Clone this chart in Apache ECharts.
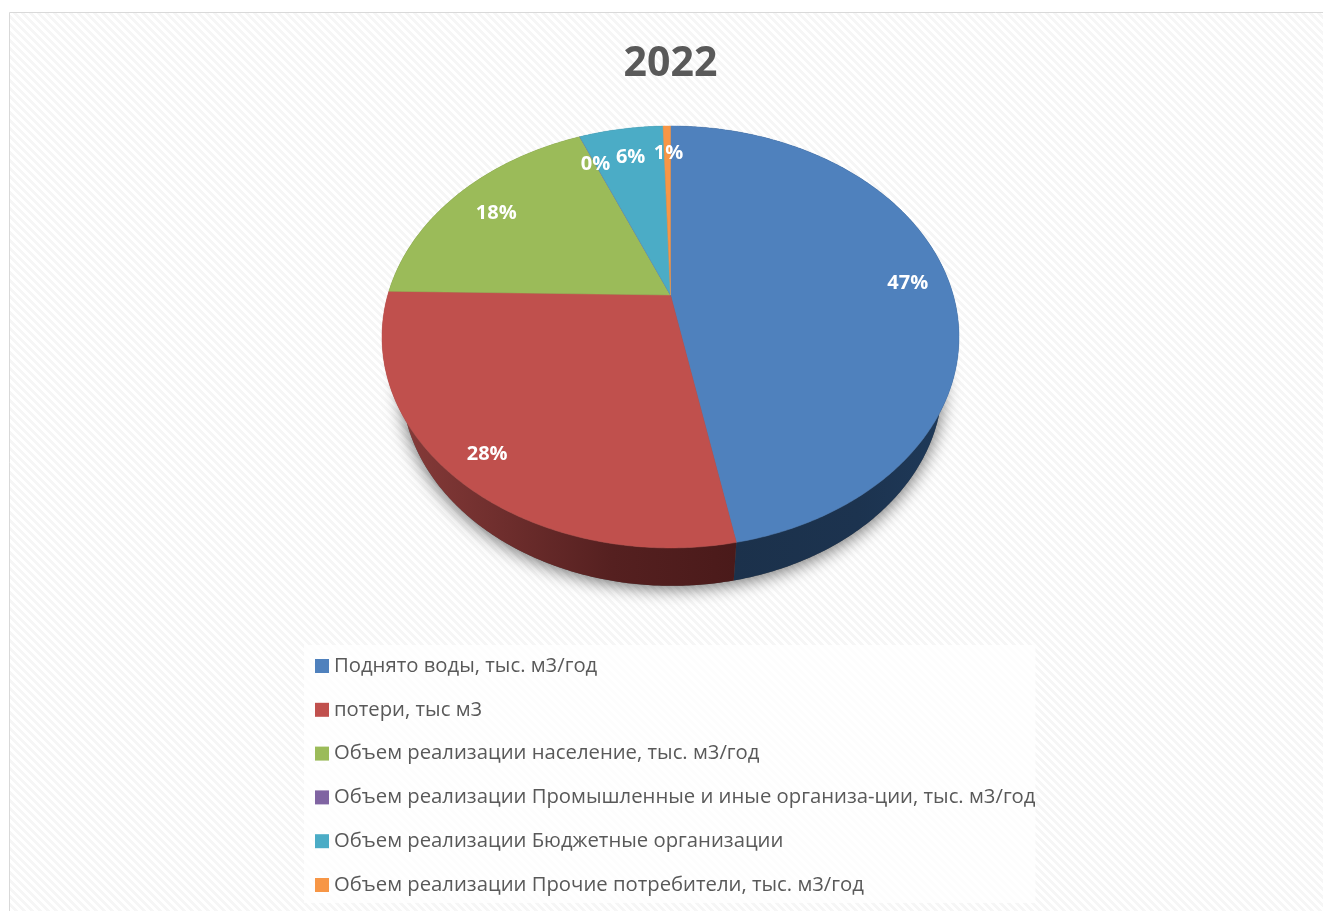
<!DOCTYPE html>
<html lang="ru">
<head>
<meta charset="utf-8">
<title>2022</title>
<style>
html,body{margin:0;padding:0;background:#fff;}
#chart{width:1323px;height:911px;}
</style>
<script src="https://cdn.jsdelivr.net/npm/echarts@6/dist/echarts.min.js"></script>
</head>
<body>
<div id="chart"></div>
<script>
// Chart content
const chartTitle = '2022';
const categories = [
  'Поднято воды, тыс. м3/год',
  'потери, тыс м3',
  'Объем реализации население, тыс. м3/год',
  'Объем реализации Промышленные и иные организа-ции, тыс. м3/год',
  'Объем реализации Бюджетные организации',
  'Объем реализации Прочие потребители, тыс. м3/год'
];
// Share of the total, percent
const shares = [47.0, 28.3, 18.49, 0.01, 5.7, 0.5];

// Slice colours and the shaded colours of their outer walls (left, middle, right)
const sliceColors = ['#4f81bd', '#c0504d', '#9bbb59', '#8064a2', '#4bacc6', '#f79646'];
const wallColors = [
  ['#1b3049', '#1c334f', '#1f3a5a'], ['#8a3d3b', '#552020', '#4a1a1a'], ['#5c7035', '#5c7035', '#5c7035'],
  ['#4c3c61', '#4c3c61', '#4c3c61'], ['#2d6776', '#2d6776', '#2d6776'], ['#94591f', '#94591f', '#94591f']
];

// Fine placement of the percentage labels, pixels
const labelOffsets = [[-1, 4], [-3, 6], [-3, 2], [0, 0], [1, -1], [1, -2]];

// Projection of the tilted disc: perspective map of the unit circle onto the page
const TILT = 0.199;
const topFace = { cx: 670.5, cy: 295, rx: 282.7, ry: 202.6 };
const bottomFace = { cx: 672, cy: 342.4, rx: 265, ry: 195 };

function project(face, angleDeg, radius) {
  const a = angleDeg * Math.PI / 180;
  const u = Math.sin(a) * radius;
  const v = -Math.cos(a) * radius;
  const d = 1 - TILT * v;
  return [face.cx + face.rx * u / d, face.cy + face.ry * v / d];
}

function rim(face, from, to) {
  const steps = Math.max(2, Math.ceil((to - from) / 0.5));
  const pts = [];
  for (let i = 0; i <= steps; i++) pts.push(project(face, from + (to - from) * i / steps, 1));
  return pts;
}

const total = shares.reduce((s, v) => s + v, 0);

function startAngle(index) {
  let sum = 0;
  for (let i = 0; i < index; i++) sum += shares[i];
  return sum / total * 360;
}

function labelRadius(share) {
  return share >= 25 ? 0.86 : 0.8;
}

function renderSlice(index, params, api) {
  const value = api.value(0);
  const from = startAngle(index);
  const to = from + value / total * 360;
  const children = [];

  if (index === 0) {
    // Soft shadow under the whole disc
    children.push({
      type: 'polygon', z2: 0, silent: true,
      shape: { points: rim(bottomFace, 0, 360) },
      style: {
        fill: '#555', shadowBlur: 18,
        shadowColor: 'rgba(0,0,0,0.6)', shadowOffsetY: 2
      }
    });
  }

  const outer = rim(topFace, from, to);
  const inner = rim(bottomFace, from, to).reverse();
  const xs = outer.concat(inner).map(p => p[0]);
  const shade = wallColors[index];
  children.push({
    type: 'polygon', z2: 1,
    shape: { points: outer.concat(inner) },
    style: {
      fill: new echarts.graphic.LinearGradient(
        Math.min.apply(null, xs), 0, Math.max.apply(null, xs), 0,
        [{ offset: 0, color: shade[0] }, { offset: 0.65, color: shade[1] }, { offset: 1, color: shade[2] }],
        true
      )
    }
  });

  children.push({
    type: 'polygon', z2: 10,
    shape: { points: [[topFace.cx, topFace.cy]].concat(outer) },
    style: { fill: sliceColors[index], stroke: sliceColors[index], lineWidth: 0.5 }
  });

  const mid = project(topFace, (from + to) / 2, labelRadius(value));
  children.push({
    type: 'text', z2: 20,
    x: mid[0] + labelOffsets[index][0],
    y: mid[1] + labelOffsets[index][1],
    style: {
      text: Math.round(value / total * 100) + '%',
      fill: '#ffffff',
      font: 'bold 20px "Open Sans"',
      align: 'center', verticalAlign: 'middle'
    }
  });
  return { type: 'group', children };
}

// Diagonal hatch used for the chart area
function hatchTile() {
  const size = 8;
  const c = document.createElement('canvas');
  c.width = c.height = size;
  const g = c.getContext('2d');
  g.fillStyle = '#ffffff';
  g.fillRect(0, 0, size, size);
  g.fillStyle = '#f6f6f6';
  for (let y = 0; y < size; y++) {
    for (let x = 0; x < size; x++) {
      if (((x - y + size) % size) < 4) g.fillRect(x, y, 1, 1);
    }
  }
  return c;
}

const chart = echarts.init(document.getElementById('chart'), null, { renderer: 'canvas' });

chart.setOption({
  animation: false,
  color: sliceColors,
  title: {
    text: chartTitle,
    left: 665.5, top: 39, textAlign: 'center',
    textStyle: { fontFamily: '"Open Sans"', fontWeight: 'bold', fontSize: 41, color: '#595959' }
  },
  legend: {
    orient: 'vertical',
    left: 304, top: 645,
    padding: [7, 0, 4, 11],
    backgroundColor: 'rgba(255,255,255,0.8)',
    itemWidth: 14, itemHeight: 14, itemGap: 15.8,
    icon: 'rect',
    selectedMode: false,
    data: categories,
    textStyle: { fontFamily: '"Open Sans"', fontSize: 20.3, color: '#595959', lineHeight: 28 }
  },
  graphic: [{
    type: 'rect', z: -10, silent: true,
    shape: { x: 9.5, y: 12.5, width: 1330, height: 910 },
    style: { fill: { image: hatchTile(), repeat: 'repeat' }, stroke: '#d9d9d9', lineWidth: 1 }
  }],
  series: categories.map((name, index) => ({
    type: 'custom',
    name,
    coordinateSystem: 'none',
    data: [shares[index]],
    itemStyle: { color: sliceColors[index] },
    renderItem: (params, api) => renderSlice(index, params, api)
  }))
});
</script>
</body>
</html>
